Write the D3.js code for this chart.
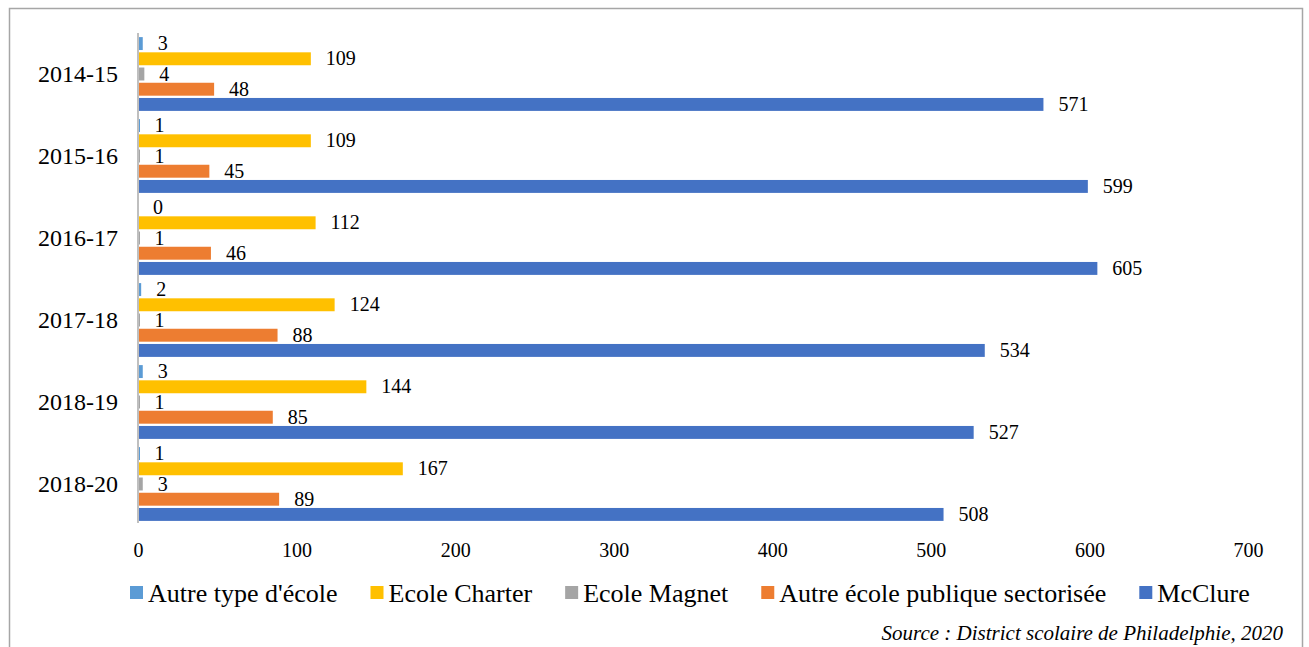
<!DOCTYPE html>
<html>
<head>
<meta charset="utf-8">
<script src="https://cdn.jsdelivr.net/npm/d3@7"></script>
</head>
<body style="margin:0; background:#fff">
<div id="chart"></div>
<script>
var years = ["2014-15", "2015-16", "2016-17", "2017-18", "2018-19", "2018-20"];
var series = ["Autre type d'école", "Ecole Charter", "Ecole Magnet", "Autre école publique sectorisée", "McClure"];
var colors = ["#5b9bd5", "#ffc000", "#a5a5a5", "#ed7d31", "#4472c4"];
var autreType = [3, 1, 0, 2, 3, 1];
var charter = [109, 109, 112, 124, 144, 167];
var magnet = [4, 1, 1, 1, 1, 3];
var autrePublique = [48, 45, 46, 88, 85, 89];
var mcclure = [571, 599, 605, 534, 527, 508];
var xTicks = [0, 100, 200, 300, 400, 500, 600, 700];
var source = "Source : District scolaire de Philadelphie, 2020";

var serif = "'Liberation Serif'";

var values = [autreType, charter, magnet, autrePublique, mcclure];
var data = years.map(function (y, i) {
    return {
        year: y,
        vals: series.map(function (s, j) {
            return { name: s, value: values[j][i], color: colors[j] };
        })
    };
});

var W = 1309, H = 647;
var margin = { top: 33, left: 138 };
var width = 1248 - margin.left;
var height = 525 - margin.top;

var svg = d3.select("#chart").append("svg")
    .attr("width", W)
    .attr("height", H);

// chart frame
svg.append("rect")
    .attr("x", 9.5)
    .attr("y", 8.5)
    .attr("width", 1293)
    .attr("height", 700)
    .attr("fill", "none")
    .attr("stroke", "#a6a6a6")
    .attr("stroke-width", 1.5);

var g = svg.append("g")
    .attr("transform", "translate(" + margin.left + "," + margin.top + ")");

var x = d3.scaleLinear().domain([0, 700]).range([0, width]);

var y0 = d3.scaleBand()
    .domain(years)
    .range([0, height])
    .paddingInner(0.1)
    .paddingOuter(0.05);

var y1 = d3.scaleBand()
    .domain(series)
    .range([0, y0.bandwidth()])
    .paddingInner(0.15);

// x axis labels
var xAxis = d3.axisBottom(x).tickValues(xTicks).tickSize(0).tickPadding(14);
var xg = g.append("g")
    .attr("transform", "translate(0," + height + ")")
    .call(xAxis);
xg.select(".domain").remove();
xg.selectAll("text")
    .style("font-family", serif)
    .style("font-size", "20px")
    .attr("fill", "#000")
    .attr("dy", "0.9em");

// y axis
var yAxis = d3.axisLeft(y0).tickSize(0).tickPadding(20);
var yg = g.append("g").call(yAxis);
yg.select(".domain").remove();
yg.selectAll("text")
    .style("font-family", serif)
    .attr("fill", "#000")
    .style("font-size", "24px");

var groups = g.selectAll(".grp")
    .data(data)
    .enter()
    .append("g")
    .attr("class", "grp")
    .attr("transform", function (d) { return "translate(0," + y0(d.year) + ")"; });

groups.selectAll("rect")
    .data(function (d) { return d.vals; })
    .enter()
    .append("rect")
    .attr("x", 0)
    .attr("y", function (d) { return y1(d.name); })
    .attr("width", function (d) { return Math.max(x(d.value), d.value > 0 ? 2 : 0); })
    .attr("height", y1.bandwidth())
    .attr("fill", function (d) { return d.color; });

groups.selectAll(".lbl")
    .data(function (d) { return d.vals; })
    .enter()
    .append("text")
    .attr("class", "lbl")
    .attr("x", function (d) { return x(d.value) + 15; })
    .attr("y", function (d) { return y1(d.name) + y1.bandwidth() / 2; })
    .attr("dy", "0.33em")
    .style("font-family", serif)
    .style("font-size", "20px")
    .text(function (d) { return d.value; });

// vertical axis line
g.append("line")
    .attr("x1", 0).attr("x2", 0)
    .attr("y1", 0).attr("y2", height - 2)
    .attr("stroke", "#bfbfbf")
    .attr("stroke-width", 2);

// legend
var legend = svg.append("g").attr("transform", "translate(130,593)");
var lx = 0;
series.forEach(function (s, i) {
    var item = legend.append("g").attr("transform", "translate(" + lx + ",0)");
    item.append("rect")
        .attr("x", 0).attr("y", -7)
        .attr("width", 13).attr("height", 13)
        .attr("fill", colors[i]);
    var t = item.append("text")
        .attr("x", 18)
        .attr("y", 0)
        .attr("dy", "0.35em")
        .style("font-family", serif)
        .style("font-size", "26px")
        .text(s);
    lx += 18 + t.node().getComputedTextLength() + 33;
});

svg.append("text")
    .attr("x", 1283)
    .attr("y", 640)
    .attr("text-anchor", "end")
    .style("font-family", serif)
    .style("font-size", "21px")
    .style("font-style", "italic")
    .text(source);
</script>
</body>
</html>
